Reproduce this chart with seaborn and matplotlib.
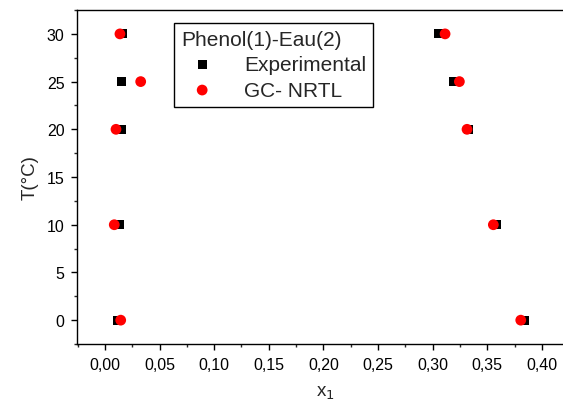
import matplotlib
matplotlib.use("Agg")
import matplotlib.pyplot as plt
from matplotlib.ticker import MultipleLocator, FuncFormatter
import seaborn as sns
import pandas as pd

# temperatures (°C)
T = [30, 25, 20, 10, 0]

# experimental phenol mole fractions, water-rich and phenol-rich branches
x_exp_left = [0.0162, 0.0153, 0.0147, 0.0137, 0.0116]
x_exp_right = [0.3052, 0.3190, 0.3330, 0.3587, 0.3837]

# GC-NRTL model
x_nrtl_left = [0.0137, 0.0327, 0.0101, 0.0085, 0.0144]
x_nrtl_right = [0.3114, 0.3245, 0.3315, 0.3556, 0.3807]

exp_df = pd.DataFrame({"x": x_exp_left + x_exp_right, "T": T + T})
nrtl_df = pd.DataFrame({"x": x_nrtl_left + x_nrtl_right, "T": T + T})

sns.set_style("ticks")
plt.rcParams["font.family"] = ["Liberation Sans", "DejaVu Sans"]

fig = plt.figure(figsize=(5.63, 4.10), dpi=100)
ax = fig.add_axes([0.1368, 0.1585, 0.8838, 0.8146])

sns.scatterplot(data=exp_df, x="x", y="T", marker="s", s=42, color="black",
                edgecolor="none", label="Experimental", ax=ax, zorder=2)
sns.scatterplot(data=nrtl_df, x="x", y="T", marker="o", s=60, color="#ff0000",
                edgecolor="none", label="GC- NRTL", ax=ax, zorder=3)

ax.set_xlim(-0.0256, 0.43)
ax.set_ylim(-2.5, 32.5)
ax.xaxis.set_major_locator(MultipleLocator(0.05))
ax.xaxis.set_minor_locator(MultipleLocator(0.025))
ax.yaxis.set_major_locator(MultipleLocator(5))
ax.yaxis.set_minor_locator(MultipleLocator(2.5))
ax.xaxis.set_major_formatter(FuncFormatter(lambda v, p: f"{v:.2f}".replace(".", ",")))
ax.tick_params(which="major", direction="out", length=4, width=1, labelsize=11.5,
               colors="black", pad=5)
ax.tick_params(which="minor", direction="out", length=2.5, width=1)
for sp in ax.spines.values():
    sp.set_linewidth(1)
    sp.set_color("black")

ax.set_xlabel("x$_1$", fontsize=13.5, labelpad=9)
ax.set_ylabel("T(°C)", fontsize=13.5, labelpad=6)

leg = ax.legend(title="Phenol(1)-Eau(2)", loc="upper left",
                bbox_to_anchor=(0.195, 0.962), fontsize=15, title_fontsize=15,
                alignment="left", fancybox=False, edgecolor="black",
                framealpha=1, borderpad=0.35, handletextpad=1.0,
                labelspacing=0.3, borderaxespad=0, markerscale=1.0)
leg.get_frame().set_linewidth(1)

fig.savefig("out.png", dpi=100)
